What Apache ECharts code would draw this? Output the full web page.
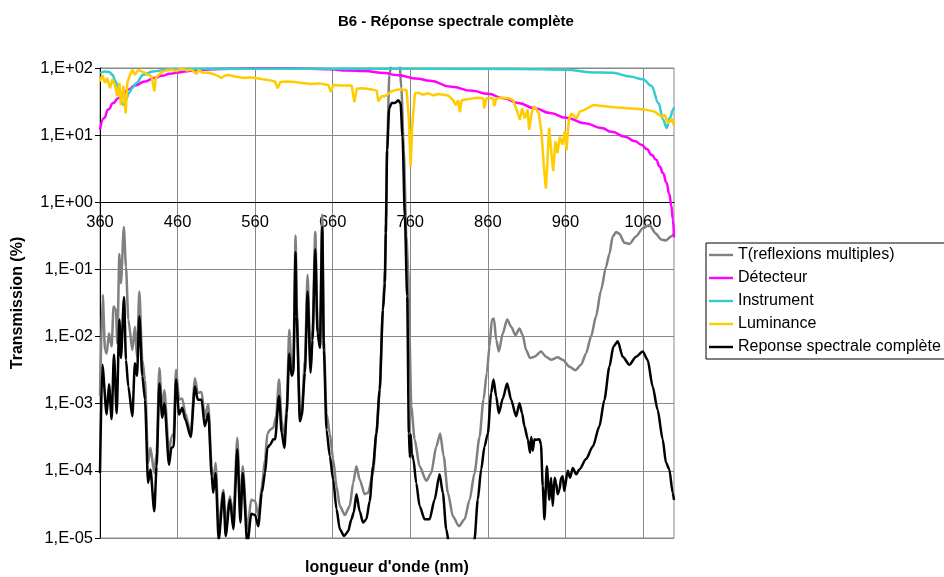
<!DOCTYPE html>
<html><head><meta charset="utf-8">
<script src="https://cdn.jsdelivr.net/npm/echarts@6/dist/echarts.min.js"></script>
<style>html,body{margin:0;padding:0;background:#fff}#c{width:944px;height:577px}</style>
</head><body><div id="c"></div>
<script>
const titleText = 'B6 - Réponse spectrale complète';
const xName = "longueur d'onde (nm)";
const yName = 'Transmission (%)';
const xTickLabels = [360, 460, 560, 660, 760, 860, 960, 1060];
const yTickLabels = ['1,E-05', '1,E-04', '1,E-03', '1,E-02', '1,E-01', '1,E+00', '1,E+01', '1,E+02'];
const seriesNames = ['T(reflexions multiples)', 'Détecteur', 'Instrument', 'Luminance', 'Reponse spectrale complète'];
const seriesColors = ['#808080', '#ff00ff', '#33cccc', '#ffcc00', '#000000'];

const tReflexions = [
[360,1.3e-3],[363.5,4.2e-2],[366.5,6.3e-3],[368.6,5.6e-3],[371.6,1.12e-2],[375,7.1e-3],[377.5,2.8e-2],[380.5,2.5e-2],
[382.3,7.9e-3],[385,0.17],[387,6.2e-2],[390.7,0.43],[393.5,0.11],[396.5,1.8e-2],[401.7,6.3e-3],[405,1.4e-2],
[407.7,5.0e-3],[410.7,4.7e-2],[414.5,4.5e-3],[418,2.3e-3],[422,1.32e-4],[425,2.2e-4],[430,9.3e-5],[433,1.86e-4],
[436.5,3.4e-3],[440.3,8.1e-4],[443,1.6e-3],[449,1.86e-4],[452,3.2e-4],[455,3.6e-4],[458,3.2e-3],[462,1.15e-3],
[466,1.2e-3],[470,7.2e-4],[477,3.6e-4],[482.4,2.4e-3],[486,1.45e-3],[491,1.5e-3],[495,6.5e-4],[499.6,9.8e-4],
[504,1.17e-4],[506,5.9e-5],[509,1.32e-4],[513,1.5e-5],[519,5.2e-5],[522,1.7e-5],[527.5,4.2e-5],[532,2.1e-5],
[537,3.1e-4],[541,2.4e-5],[544,1.17e-4],[550,1.35e-5],[555,3.7e-5],[560,3.55e-5],[564.3,2.1e-5],[568.6,5.9e-5],
[572.8,1.5e-4],[575.8,3.6e-4],[579.3,4.1e-4],[583.5,4.4e-4],[587,6.5e-4],[590.8,2.3e-3],[594.2,5.8e-4],[597.7,2.6e-4],
[600.7,9.1e-4],[604,1.26e-2],[607,3.55e-3],[609.2,3.55e-3],[612.2,0.32],[613.5,2.8e-2],[617.8,6.5e-4],[620,7.2e-4],
[624.2,4.5e-3],[627.6,8.3e-2],[631.5,3.55e-3],[634,1.26e-2],[637.5,0.36],[640.5,1.4e-2],[643.5,7.1e-3],[646.5,0.65],
[648.6,8.9e-3],[652,7.2e-4],[656.3,3.6e-4],[660.6,1.5e-4],[664.9,5.9e-5],[669.2,3.0e-5],[675.6,2.2e-5],[682,3.0e-5],
[686.3,6.6e-5],[690.6,1.17e-4],[694.8,7.4e-5],[701.3,4.5e-5],[705.5,4.7e-5],[712,9.3e-5],[716.3,3.6e-4],[720.5,1.45e-3],
[724.8,2.8e-2],[727.3,0.1],[728.5,0.5],[730.2,7.1],[733,79],[737,141],[742,178],[746,126],[748.5,50],[751.7,6.0],
[755,0.31],[757.3,0.1],[759,1.0e-2],[761.3,9.1e-4],[765.6,2.95e-4],[772,1.17e-4],[780.7,7.1e-5],[787,9.3e-5],
[793.5,2.3e-4],[798.6,3.6e-4],[803,1.66e-4],[808.5,4.7e-5],[815,2.1e-5],[822.7,1.5e-5],[830,1.9e-5],[836.5,3.7e-5],
[842.8,9.3e-5],[849.3,3.2e-4],[854.4,1.15e-3],[858.7,2.9e-3],[862.1,7.1e-3],[865.2,1.8e-2],[867.8,1.86e-2],[870.8,8.9e-3],
[874.2,6.0e-3],[879.3,1.12e-2],[884.9,1.8e-2],[890,1.4e-2],[895.7,1.05e-2],[900.8,1.32e-2],[905,1.05e-2],[909.3,6.3e-3],
[914.5,4.8e-3],[920,5.0e-3],[928.6,6.0e-3],[935,5.0e-3],[941.5,4.5e-3],[950,4.9e-3],[956.6,4.5e-3],[965.2,3.55e-3],
[972.9,3.16e-3],[980.2,3.8e-3],[986.6,5.6e-3],[993.1,1.0e-2],[999.5,2.0e-2],[1005.9,4.9e-2],[1012.4,0.11],[1016.7,0.17],
[1021,0.31],[1025.3,0.36],[1029.6,0.34],[1036,0.25],[1042.5,0.24],[1051,0.31],[1059.7,0.41],[1068.2,0.46],
[1076.8,0.34],[1083.3,0.28],[1089.7,0.27],[1096.1,0.31],[1100,0.34]
];

const detecteur = [
[360,12],[365,17.8],[370.7,24],[377,30],[383.6,35.5],[390,41.7],[396.5,47.9],[405,55],[418,63],[430,70.8],
[439.5,76.7],[450,82],[461,86],[472,89.5],[482.4,92.3],[500,95],[530,97.7],[560,98.9],[600,98.9],[630,97.7],
[656,95.5],[680,92],[700,90],[727.3,84],[742,78.5],[770,69],[785,64.6],[813,52.5],[840,45.7],[860,41.2],
[880,35.5],[899,30.2],[920.6,25.1],[940,21.4],[961,18.2],[985,15.1],[1006.5,12.8],[1020,11.2],[1036.5,9.5],
[1050,8.1],[1058,7.2],[1065,6.2],[1071,5.1],[1077,4.3],[1081.6,3.4],[1086,2.7],[1090.3,1.95],[1094,1.32],
[1096.7,0.87],[1098.5,0.56],[1100,0.3]
];

const instrument = [
[360,84],[366,89],[372,87],[376,79],[380,63],[383.6,50],[386,38],[388,30],[391,28],[393,34],[397.8,43],[402,51],
[407,60],[415.6,79],[428,89],[450,95.5],[500,97.7],[700,97.7],[900,96.6],[960,94.4],[995,86],[1021,85],[1043,75],
[1060,68],[1071,54],[1080,30],[1086,17],[1090.5,12.8],[1094.6,18],[1099,24],[1100,26]
];

const luminance = [
[360,63],[363,79],[366.4,60],[369.4,71],[372.9,50],[375.9,68],[379.3,56],[382.3,38],[385,60],[387,28],[390,54],
[393.1,21],[395.2,60],[398.7,79],[401.7,94],[405,79],[409.4,94],[415.8,87],[422.3,79],[426.6,75],[430,45],[432,71],
[439.5,87],[446,92],[452.4,94],[458,90],[465.2,98],[472,92],[478,94],[484.7,81],[486.8,93],[492,86],[499.7,85],
[508,80],[516.8,71],[520,76],[525.4,79],[535,74],[546.9,71],[553,73],[559.8,71],[570,68],[578,66],[585.6,63],
[589,50],[592.5,62],[600,63],[611.4,62],[620,60],[632.8,58],[642,59],[654.3,56],[657.8,44],[660.8,56],[670,55],
[684.5,55],[687.9,31],[690.9,49],[697.3,50],[704,49],[710.2,48],[716.7,46],[718.8,32],[723.1,38],[727.3,38],
[736,45],[744.5,48],[755.2,47],[758.2,17],[760.4,3.4],[762.5,13.5],[766,42],[770.3,43],[776,40],[783.1,42],
[790,39],[796,41],[808.9,39],[815.4,33],[818.4,28],[821.8,33],[824,22],[826.1,33],[832,34],[839,35],[846,36],
[854,35.5],[855.3,25],[858.3,35.5],[866.9,35.5],[868.2,27],[871.2,35.5],[880,36],[888.4,35],[892.7,33],[897,24],
[901.3,17],[904.3,25],[907.7,17.8],[911.2,24],[913.3,12],[916.3,21],[919.7,27],[922.8,24],[925.7,21],[929.2,10.7],
[932.2,3.4],[934.8,1.6],[937,4.3],[939,12.9],[942,5.4],[944.2,2.9],[947.2,8.1],[949.8,5.4],[952.8,9.5],[956.3,7.2],
[959.3,11.5],[961.4,6.0],[964.4,17],[967.8,21],[974.3,17.8],[978.6,22.4],[985,24],[995.8,28],[1010.8,27],
[1028,25.7],[1045.2,25],[1062.4,24],[1075.2,22.4],[1083.8,19],[1088.1,20],[1092.4,15],[1096.7,17.8],[1100,14]
];

const reponse = [
[360,9.3e-5],[363,3.8e-3],[368.6,6.9e-4],[371.6,1.95e-3],[375,5.9e-4],[378,5.4e-3],[381.5,7.2e-4],[385,1.8e-2],
[387,4.8e-3],[391,3.9e-2],[393.5,4.5e-3],[396.5,1.8e-3],[401.7,6.5e-4],[405,4.0e-3],[407.7,2.6e-3],[410.7,2.0e-2],
[414.5,2.6e-3],[418,1.15e-3],[422,6.6e-5],[425,1.05e-4],[430,2.5e-5],[433,1.17e-4],[436.5,2.0e-3],[440.3,6.2e-4],
[443,1.02e-3],[449,1.23e-4],[452,2.2e-4],[455,2.3e-4],[458,2.3e-3],[462,6.9e-4],[466,8.7e-4],[470,5.8e-4],
[477,3.2e-4],[482.4,1.8e-3],[486,1.15e-3],[491,1.15e-3],[495,4.6e-4],[499.6,7.2e-4],[504,8.3e-5],[506,4.7e-5],
[509,9.3e-5],[513,9.5e-6],[519,4.7e-5],[522,1.07e-5],[527.5,3.7e-5],[532,1.35e-5],[537,2.1e-4],[541,1.7e-5],
[544,9.3e-5],[550,8e-6],[555,2.3e-5],[560,2.2e-5],[564,1.5e-5],[568.6,4.7e-5],[572.8,9.3e-5],[575.8,2.2e-4],
[579.3,2.45e-4],[583.5,2.95e-4],[585.7,2.95e-4],[590.8,1.3e-3],[594.2,3.7e-4],[597.7,2.2e-4],[600.7,7.2e-4],
[604,5.6e-3],[607,2.6e-3],[609.2,2.9e-3],[612.2,0.18],[613.5,2.0e-2],[617.8,5.5e-4],[620,6.5e-4],[624.2,2.9e-3],
[627.6,4.7e-2],[631.5,2.9e-3],[634,8.9e-3],[637.5,0.2],[640.5,1.12e-2],[643.5,6.8e-3],[646.5,0.43],[648.6,6.3e-3],
[652,4.1e-4],[656.3,1.66e-4],[660.6,7.4e-5],[664.9,2.7e-5],[669.2,1.35e-5],[674.7,1.07e-5],[679.9,1.26e-5],
[684.1,1.9e-5],[687.1,2.4e-5],[690.6,4.5e-5],[694.8,2.5e-5],[699.1,1.7e-5],[703.4,1.9e-5],[707.7,3.55e-5],
[712,1.17e-4],[716.3,3.6e-4],[720.5,1.6e-3],[724.8,2.5e-2],[727.3,6.3e-2],[728.5,0.35],[730.2,6.0],[732.8,25],
[735.9,30],[740.2,30],[744.4,33],[747.5,30],[750,9.5],[753,0.62],[756,4.0e-2],[758.2,3.6e-4],[759.5,1.6e-4],
[760.5,3.5e-4],[762,1.8e-4],[764,1.5e-4],[767.7,6.6e-5],[772,3.0e-5],[778.5,1.9e-5],[784.9,1.9e-5],[791.3,3.7e-5],
[797.8,8.9e-5],[802,4.7e-5],[806.4,1.35e-5],[809.8,8.5e-6],[825,3e-6],[842.8,9.5e-6],[847,3.7e-5],[851.4,1.05e-4],
[855.7,2.3e-4],[860,3.6e-4],[864.3,1.45e-3],[867.3,2.3e-3],[870.7,1.3e-3],[874.2,7.2e-4],[879.3,1.2e-3],[884.9,2.0e-3],
[890,1.15e-3],[896.5,6.5e-4],[900.8,1.02e-3],[904.2,7.2e-4],[907.2,4.6e-4],[911.5,2.95e-4],[914.5,1.86e-4],[916,3.2e-4],
[918,2.0e-4],[920,2.95e-4],[922.2,2.9e-4],[926.5,2.95e-4],[928.5,2.5e-4],[930.8,5.9e-5],[933,1.9e-5],[936,1.17e-4],
[939.4,3.7e-5],[941.5,7.9e-5],[943.7,3.0e-5],[946,7.9e-5],[948,6.6e-5],[950,4.5e-5],[952.3,5.2e-5],[954.5,7.9e-5],
[956.6,8.3e-5],[958.5,5e-5],[963,1.0e-4],[966,7.9e-5],[969.5,1.1e-4],[974,8.9e-5],[978,1.05e-4],[986.7,1.5e-4],
[995.3,2.3e-4],[1003.8,4.6e-4],[1010.3,1.15e-3],[1016.7,3.55e-3],[1021.9,7.1e-3],[1027.5,8.5e-3],[1033.9,5.0e-3],
[1042.5,3.8e-3],[1051.1,5.0e-3],[1059.7,6.0e-3],[1066,4.5e-3],[1072.5,1.8e-3],[1078.9,8.1e-4],[1085.4,2.95e-4],
[1089.7,1.32e-4],[1094,1.05e-4],[1098.3,4.7e-5],[1100,3.7e-5]
];

const allData = [tReflexions, detecteur, instrument, luminance, reponse];
const smoothing = [0.25, 0.5, 0.4, 0, 0.25];
const FONT = '"Liberation Sans", Arial, sans-serif';

const chart = echarts.init(document.getElementById('c'), null, {renderer: 'canvas'});
chart.setOption({
  animation: false,
  backgroundColor: '#ffffff',
  title: {
    text: titleText, left: 333, top: 9,
    textStyle: {fontFamily: FONT, fontSize: 15, fontWeight: 'bold', color: '#000'}
  },
  grid: {left: 100, top: 68, width: 574, height: 470, outerBoundsMode: 'none', containLabel: false,
    show: true, borderColor: '#888', borderWidth: 1, backgroundColor: 'transparent'},
  legend: {
    orient: 'vertical', left: 706, top: 243,
    backgroundColor: '#fff', borderColor: '#000', borderWidth: 1,
    padding: [4, 6, 4, 3], itemWidth: 24, itemHeight: 16, itemGap: 7,
    icon: 'path://M0 0H30V3H0Z',
    textStyle: {fontFamily: FONT, fontSize: 16, color: '#000'},
    data: seriesNames
  },
  xAxis: {
    type: 'value', min: 360, max: 1100, interval: 20, position: 'bottom', offset: -335.714,
    name: xName, nameLocation: 'middle', nameGap: 357,
    nameTextStyle: {fontFamily: FONT, fontSize: 16, fontWeight: 'bold', color: '#000'},
    axisLine: {show: true, onZero: false, lineStyle: {color: '#000', width: 1}},
    axisTick: {show: false},
    axisLabel: {
      fontFamily: FONT, fontSize: 16.5, color: '#000', margin: 12,
      formatter: v => xTickLabels.indexOf(Math.round(v)) >= 0 ? String(Math.round(v)) : ''
    },
    splitLine: {show: true, lineStyle: {color: ['#888', 'transparent', 'transparent', 'transparent', 'transparent'], width: 1}}
  },
  yAxis: {
    type: 'log', logBase: 10, min: 1e-5, max: 100, splitNumber: 7,
    name: yName, nameLocation: 'middle', nameGap: 74, nameRotate: 90,
    nameTextStyle: {fontFamily: FONT, fontSize: 16, fontWeight: 'bold', color: '#000'},
    axisLine: {show: true, lineStyle: {color: '#000', width: 1}},
    axisTick: {show: true, length: 5, lineStyle: {color: '#000'}},
    axisLabel: {
      fontFamily: FONT, fontSize: 16.5, color: '#000', margin: 7,
      formatter: v => yTickLabels[Math.round(Math.log10(v)) + 5] || ''
    },
    splitLine: {show: true, lineStyle: {color: '#888', width: 1}}
  },
  series: seriesNames.map((name, i) => ({
    name, type: 'line', data: allData[i], showSymbol: false, symbol: 'none',
    smooth: smoothing[i], smoothMonotone: 'x',
    color: seriesColors[i], clip: true,
    lineStyle: {color: seriesColors[i], width: 2.5}
  }))
});
</script></body></html>
